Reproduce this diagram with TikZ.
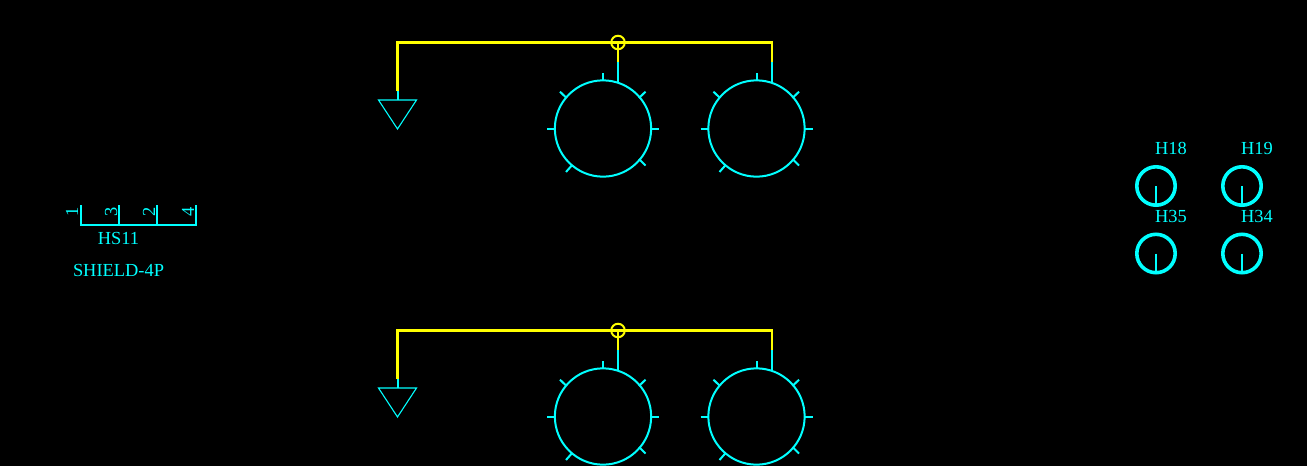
\documentclass[tikz,border=0pt]{standalone}
\usepackage{fontspec}
\setmainfont{Liberation Serif}
\definecolor{cy}{RGB}{0,255,255}
\definecolor{yl}{RGB}{255,255,0}
\tikzset{x=1pt,y=-1pt,
  every node/.style={inner sep=0pt,outer sep=0pt},
  cyl/.style={draw=cy,line width=2pt},
  thin cyl/.style={draw=cy,line width=1.1pt},
  yel/.style={draw=yl,line width=2.2pt},
  lbl/.style={text=cy,font=\fontsize{18.4}{18.4}\selectfont,anchor=center},
  hole/.style={circle,draw=cy,line width=2pt,minimum size=96.3pt},
  mount/.style={circle,draw=cy,line width=3.6pt,minimum size=38.4pt},
  jct/.style={circle,draw=yl,line width=2pt,minimum size=13.5pt},
}
\newcommand{\holeticks}[3]{%
  % #1 name, #2 x, #3 y
  \node[hole] (#1) at (#2,#3) {};
  \draw[cyl] (#2,#3-55.5) -- (#2,#3-48.5);
  \draw[cyl] (#2+48.5,#3) -- (#2+56,#3);
  \draw[cyl] (#2-56,#3) -- (#2-48.5,#3);
  \draw[cyl] (#2-43,#3-36.8) -- (#2-36.5,#3-30.5);
  \draw[cyl] (#2+42.5,#3-36.8) -- (#2+36,#3-30.5);
  \draw[cyl] (#2+42.5,#3+37) -- (#2+36,#3+30.5);
  \draw[cyl] (#2-37,#3+43.5) -- (#2-31.3,#3+37);
}
\newcommand{\shieldrow}[2]{%
  % #1 name prefix, #2 y offset
  \holeticks{#1A}{603}{128.5+#2}
  \holeticks{#1B}{756.5}{128.5+#2}
  \node[jct] (#1J) at (618,42.5+#2) {};
  \coordinate (#1C) at (397.5,42.5+#2);
  \coordinate (#1D) at (772,42.5+#2);
  \coordinate (#1P) at (397.5,91+#2);
  \coordinate (#1G) at (397.5,100+#2);
  \coordinate (#1L) at (378.5,100+#2);
  \coordinate (#1R) at (416.5,100+#2);
  \coordinate (#1T) at (397.5,129+#2);
  \coordinate (#1Q) at (618,62+#2);
  \coordinate (#1S) at (772,62+#2);
  \coordinate (#1U) at (618,81.5+#2);
  \coordinate (#1V) at (772,82+#2);
  \draw[cyl] (#1P) -- (#1G);
  \draw[thin cyl] (#1L) -- (#1R) -- (#1T) -- cycle;
  \draw[cyl] (#1Q) -- (#1U);
  \draw[cyl] (#1S) -- (#1V);
  \draw[yel] (#1P) -- (#1C) -- (#1D) -- (#1S);
  \draw[yel] (#1J.center) -- (#1Q);
}
\newcommand{\mounthole}[5]{%
  % #1 name, #2 x, #3 y, #4 text, #5 label y
  \node[mount] (#1) at (#2,#3) {};
  \coordinate (#1p) at (#2,#3+19);
  \draw[cyl] (#1.center) -- (#1p);
  \node[lbl] (#1t) at (#2+15,#5) {#4};
}
\begin{document}
\begin{tikzpicture}
\useasboundingbox[fill=black] (0,0) rectangle (1307,466);
\shieldrow{a}{0}
\shieldrow{b}{288}
% connector HS11
\coordinate (k1) at (81,205);
\coordinate (k1b) at (81,224.5);
\coordinate (k3) at (119,205);
\coordinate (k3b) at (119,224.5);
\coordinate (k2) at (157,205);
\coordinate (k2b) at (157,224.5);
\coordinate (k4) at (196,205);
\coordinate (k4b) at (196,224.5);
\draw[cyl] (k1) -- (k1b) -- (k4b) -- (k4);
\draw[cyl] (k3) -- (k3b);
\draw[cyl] (k2) -- (k2b);
\node[lbl,rotate=90] (n1) at (72,211.5) {1};
\node[lbl,rotate=90] (n3) at (111,211.5) {3};
\node[lbl,rotate=90] (n2) at (149,211.5) {2};
\node[lbl,rotate=90] (n4) at (188,211.5) {4};
\node[lbl] (hs) at (118.5,238.5) {HS11};
\node[lbl] (sh) at (118.5,270.5) {SHIELD-4P};
% mounting holes
\mounthole{h18}{1156}{186}{H18}{148.5}
\mounthole{h19}{1242}{186}{H19}{148.5}
\mounthole{h35}{1156}{253.5}{H35}{216}
\mounthole{h34}{1242}{253.5}{H34}{216}
\end{tikzpicture}
\end{document}
